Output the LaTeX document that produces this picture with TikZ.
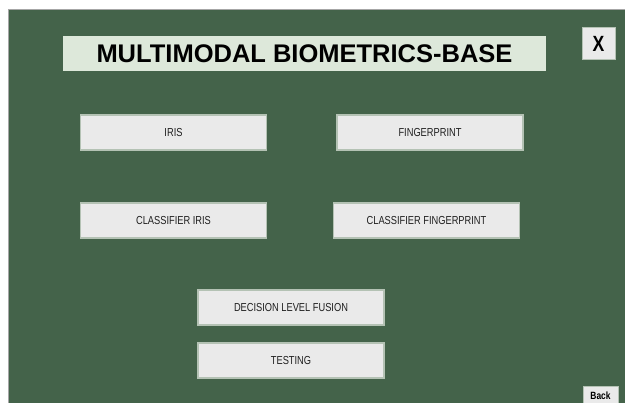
\documentclass[tikz,border=0pt]{standalone}
\usepackage{fontspec}
\setmainfont{Liberation Sans}
\newfontfamily\narrowfont[FakeStretch=0.8]{Liberation Sans}
\definecolor{panelgreen}{HTML}{44634A}
\definecolor{btnfill}{HTML}{EAEAEA}
\definecolor{btnedge}{HTML}{B4C2B4}
\definecolor{titlefill}{HTML}{DDE8DA}
\begin{document}
\begin{tikzpicture}[x=1pt,y=-1pt,
		button/.style={draw=btnedge,line width=1.2pt,fill=btnfill,minimum width=186pt,minimum height=35pt,inner sep=0pt,font=\narrowfont\fontsize{11.6}{13}\selectfont,text=black!88},
		smallbtn/.style={draw=btnedge,line width=1pt,fill=btnfill,inner sep=0pt},
	]
	\useasboundingbox (0,0) rectangle (625,403);
	\fill[white] (0,0) rectangle (625,403);
	\draw[fill=panelgreen,draw=gray!70] (8,9) rectangle (626,404);
	% title bar
	\node[fill=titlefill,minimum width=483pt,minimum height=35pt,inner sep=0pt,font=\bfseries\fontsize{25.5}{28}\selectfont] (title) at (304.5,53.5) {MULTIMODAL BIOMETRICS-BASE};
	\node[smallbtn,minimum width=33pt,minimum height=32pt,font=\bfseries\narrowfont\fontsize{22}{24}\selectfont] (close) at (598.5,44) {X};
	% buttons
	\node[button] (iris) at (173.5,132.5) {IRIS};
	\node[button] (finger) at (430,132.5) {FINGERPRINT};
	\node[button] (clsiris) at (173.5,220.5) {CLASSIFIER IRIS};
	\node[button] (clsfinger) at (426.5,220.5) {CLASSIFIER FINGERPRINT};
	\node[button] (fusion) at (291,307.5) {DECISION LEVEL FUSION};
	\node[button] (testing) at (291,360.5) {TESTING};
	\fill[btnfill,draw=btnedge,line width=1pt] (583,387) rectangle (618,404);
	\node[font=\bfseries\narrowfont\fontsize{10.5}{12}\selectfont,inner sep=0pt] (back) at (600.5,396) {Back};
\end{tikzpicture}
\end{document}
